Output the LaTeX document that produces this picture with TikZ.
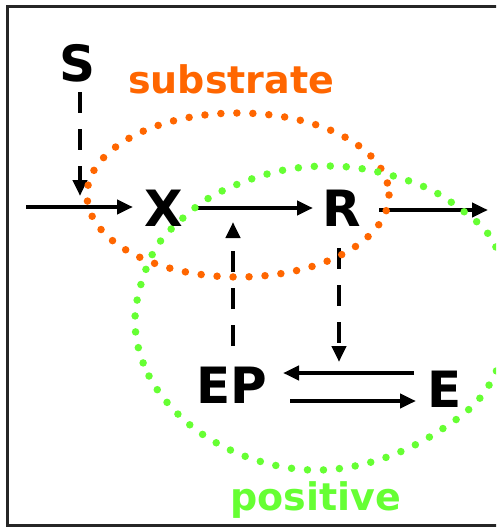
\documentclass[tikz,border=0pt]{standalone}
\usepackage{fontspec}
\setmainfont{DejaVu Sans}
\usetikzlibrary{arrows.meta,calc}
\definecolor{sorange}{RGB}{255,102,0}
\definecolor{pgreen}{RGB}{102,255,51}
\begin{document}
\begin{tikzpicture}[x=1pt,y=-1pt,
  letter/.style={font=\fontsize{50}{50}\selectfont\bfseries, inner sep=0pt},
  lbl/.style={font=\fontsize{38}{38}\selectfont\bfseries, inner sep=0pt, anchor=base west},
  arr/.style={line width=4.5pt, -{Triangle[length=16pt,width=14pt]}},
  darr/.style={arr, dash pattern=on 21pt off 16pt},
  dots/.style={line width=7.5pt, line cap=round, dash pattern=on 0pt off 16pt}]
\useasboundingbox (0,0) rectangle (496,527);
\clip (0,0) rectangle (496,527);
\draw[line width=3pt, black!85] (7,7) rectangle (520,525);
% nodes
\node[letter] (S) at (78,63) {S};
\node[letter] (X) at (164,208) {X};
\node[letter] (R) at (342,208) {R};
\node[letter] (EP) at (232,385) {EP};
\node[letter] (E) at (445,389) {E};
\node[lbl, text=sorange] (sub) at (128,93) {substrate};
\node[lbl, text=pgreen] (pos) at (230,510) {positive};
% coordinates
\coordinate (in) at (26,207);
\coordinate (out) at (488,210);
\coordinate (sjoin) at (80,196);
\coordinate (xrmid) at (233,222);
\coordinate (eqmid) at (339,362);
% arrows
\draw[arr] (in) -- ($(X)+(-31,-1)$);
\draw[arr] ($(X)+(34,0)$) -- ($(R)+(-29,0)$);
\draw[arr] ($(R)+(37,2)$) -- (out);
\draw[darr] ($(S)+(2,29)$) -- (sjoin);
\draw[darr] ($(EP)+(1,-39)$) -- (xrmid);
\draw[darr] ($(R)+(-3,40)$) -- (eqmid);
\draw[arr] ($(E)+(-31,-16)$) -- ($(EP)+(51,-12)$);
\draw[arr] ($(EP)+(58,16)$) -- ($(E)+(-29,12)$);
% dotted loops
\draw[dots, sorange] (238,195) ellipse [x radius=151, y radius=82];
\draw[dots, pgreen] plot[smooth cycle, tension=0.6] coordinates {
 (135,318) (149,376) (190,425) (247,457) (311,470) (375,461) (436,433)
 (486,390) (510,320) (495,245) (455,205) (412,182) (349,167) (284,170)
 (222,191) (183,218) (152,255)};
\end{tikzpicture}
\end{document}
